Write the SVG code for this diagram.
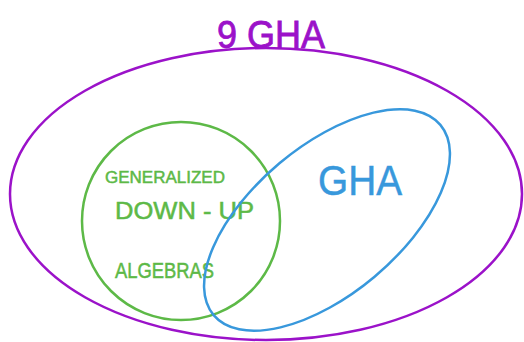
<svg xmlns="http://www.w3.org/2000/svg" width="524" height="342" viewBox="0 0 524 342">
  <style>
    .ring { fill: none; stroke-width: 2.5; }
    .lbl { font-family: "Liberation Sans", "DejaVu Sans", sans-serif; font-weight: normal; }
  </style>
  <rect width="524" height="342" fill="#ffffff"/>
  <g id="gha-outer">
    <ellipse class="ring" cx="266" cy="194" rx="256" ry="146" stroke="#9b12c9"/>
    <text class="lbl" x="217" y="48" font-size="38" fill="#9b12c9" stroke="#9b12c9" stroke-width="0.8" textLength="108" lengthAdjust="spacingAndGlyphs">9 GHA</text>
  </g>
  <g id="down-up">
    <circle class="ring" cx="181" cy="221" r="99" stroke="#5db947"/>
    <text class="lbl" x="105" y="183" font-size="17" fill="#5db947" stroke="#5db947" stroke-width="0.5" textLength="120" lengthAdjust="spacingAndGlyphs">GENERALIZED</text>
    <text class="lbl" x="115" y="219" font-size="24" fill="#5db947" stroke="#5db947" stroke-width="0.5" textLength="139" lengthAdjust="spacingAndGlyphs">DOWN - UP</text>
    <text class="lbl" x="115" y="278" font-size="22" fill="#5db947" stroke="#5db947" stroke-width="0.5" textLength="99" lengthAdjust="spacingAndGlyphs">ALGEBRAS</text>
  </g>
  <g id="gha">
    <ellipse class="ring" cx="327" cy="220" rx="148" ry="74" transform="rotate(-40 327 220)" stroke="#3898dc"/>
    <text class="lbl" x="318" y="195" font-size="42" fill="#3898dc" stroke="#3898dc" stroke-width="0.5" textLength="84" lengthAdjust="spacingAndGlyphs">GHA</text>
  </g>
</svg>
